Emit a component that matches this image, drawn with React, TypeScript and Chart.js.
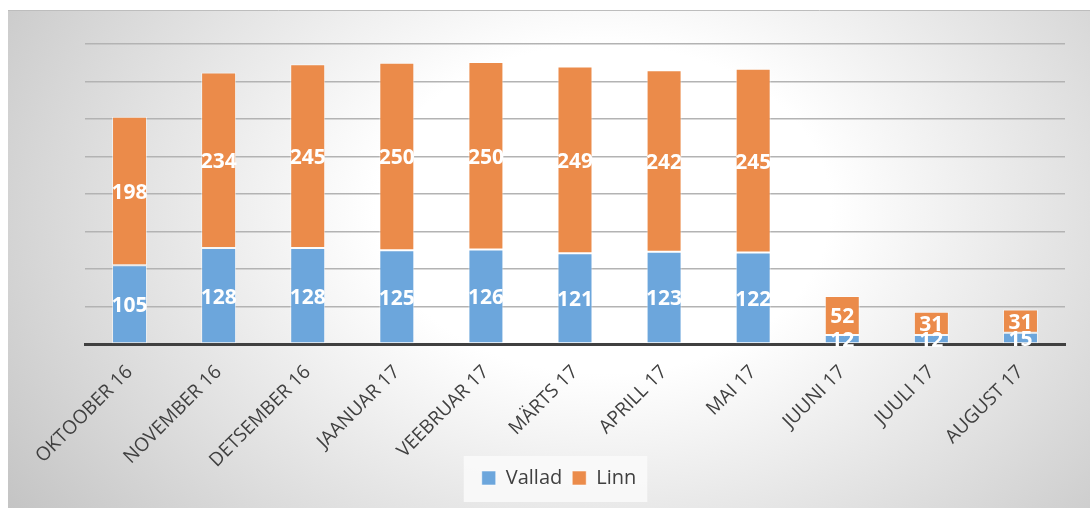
import React, { useEffect, useRef } from "react";
import { Chart, registerables } from "chart.js";

Chart.register(...registerables);

const categories = [
  "OKTOOBER 16",
  "NOVEMBER 16",
  "DETSEMBER 16",
  "JAANUAR 17",
  "VEEBRUAR 17",
  "MÄRTS 17",
  "APRILL 17",
  "MAI 17",
  "JUUNI 17",
  "JUULI 17",
  "AUGUST 17",
];
const vallad = [105, 128, 128, 125, 126, 121, 123, 122, 12, 12, 15];
const linn = [198, 234, 245, 250, 250, 249, 242, 245, 52, 31, 31];
const seriesNames = ["Vallad", "Linn"];
const yMax = 400;
const yStep = 50;

const W = 1082;
const H = 498;

const framePlugin = {
  id: "frame",
  afterLayout(chart: any) {
    const lg = chart.legend;
    if (lg) {
      lg.left -= 16;
      lg.right -= 16;
    }
    const xs = chart.scales && chart.scales.x;
    if (xs) {
      xs._computeLabelArea = () => undefined;
    }
  },
  beforeDraw(chart: any) {
    const { ctx, width } = chart;
    ctx.save();
    ctx.strokeStyle = "#bdbdbd";
    ctx.lineWidth = 1;
    ctx.beginPath();
    ctx.moveTo(0, 0.5);
    ctx.lineTo(width, 0.5);
    ctx.stroke();
    const lg = chart.legend;
    if (lg && lg.legendHitBoxes && lg.legendHitBoxes.length) {
      const hb = lg.legendHitBoxes;
      const minX = Math.min(...hb.map((h: any) => h.left));
      const maxX = Math.max(...hb.map((h: any) => h.left + h.width));
      const minY = Math.min(...hb.map((h: any) => h.top));
      const maxY = Math.max(...hb.map((h: any) => h.top + h.height));
      ctx.fillStyle = "rgba(250,250,250,0.9)";
      ctx.fillRect(minX - 18, minY - 12, maxX - minX + 29, maxY - minY + 26);
    }
    ctx.restore();
  },
};

const labelPlugin = {
  id: "vals",
  afterDatasetsDraw(chart: any) {
    const ctx = chart.ctx;
    ctx.save();
    ctx.font = 'bold 21px "Open Sans"';
    ctx.fillStyle = "#ffffff";
    ctx.textAlign = "center";
    ctx.textBaseline = "middle";
    chart.data.datasets.forEach((ds: any, di: number) => {
      const meta = chart.getDatasetMeta(di);
      meta.data.forEach((el: any, i: number) => {
        const { x, y, base } = el.getProps(["x", "y", "base"], true);
        ctx.fillText(String(ds.data[i]), x, (y + base) / 2 + 2);
      });
    });
    ctx.restore();
  },
};

export default function App() {
  const ref = useRef<HTMLCanvasElement | null>(null);

  useEffect(() => {
    if (!ref.current) return;
    const chart = new Chart(ref.current, {
      type: "bar",
      data: {
        labels: categories,
        datasets: [
          {
            label: seriesNames[0],
            data: vallad,
            backgroundColor: "#6ca6dc",
            borderColor: "rgba(255,255,255,0.55)",
            borderWidth: 1,
            borderSkipped: false,
          },
          {
            label: seriesNames[1],
            data: linn,
            backgroundColor: "#eb8b4a",
            borderColor: "rgba(255,255,255,0.55)",
            borderWidth: 1,
            borderSkipped: false,
          },
        ],
      },
      options: {
        responsive: false,
        animation: false,
        devicePixelRatio: 1,
        layout: { padding: { left: 77, right: 25, top: 34, bottom: 10 } },
        datasets: {
          bar: { categoryPercentage: 1, barPercentage: 0.393 },
        },
        scales: {
          x: {
            stacked: true,
            grid: { display: false },
            border: { display: true, color: "#404040", width: 3 },
            ticks: {
              color: "#404040",
              font: { family: "Open Sans", size: 19 },
              minRotation: 45,
              maxRotation: 45,
              autoSkip: false,
              padding: 9,
            },
            afterFit(s: any) {
              s.height = 114;
            },
          },
          y: {
            stacked: true,
            min: 0,
            max: yMax,
            ticks: { display: false, stepSize: yStep },
            grid: { color: "#b3b3b3", lineWidth: 1.5, drawTicks: false },
            border: { display: false },
            afterFit(s: any) {
              s.width = 0;
            },
          },
        },
        plugins: {
          legend: {
            position: "bottom",
            labels: {
              boxWidth: 14,
              boxHeight: 14,
              color: "#404040",
              font: { family: "Open Sans", size: 20 },
              padding: 10,
            },
          },
          tooltip: { enabled: false },
        },
      },
      plugins: [framePlugin, labelPlugin],
    });
    return () => chart.destroy();
  }, []);

  return (
    <div
      style={{
        position: "fixed",
        left: 8,
        top: 10,
        width: W,
        height: H,
        background:
          "radial-gradient(ellipse 70% 110% at 55% 40%, #ffffff 30%, #c0c0c0 100%)",
      }}
    >
      <canvas ref={ref} width={W} height={H} style={{ display: "block", width: W, height: H }} />
    </div>
  );
}
